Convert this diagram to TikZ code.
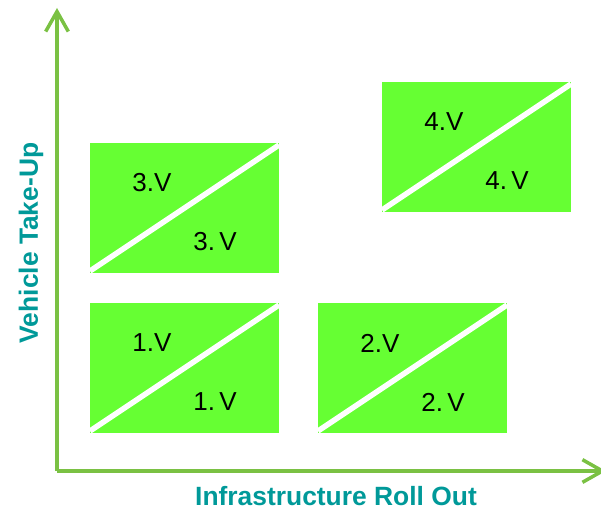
\documentclass[tikz,border=0pt]{standalone}
\usepackage{fontspec}
\setmainfont{Liberation Sans}
\usetikzlibrary{arrows.meta,calc}
\definecolor{boxgreen}{HTML}{66FF33}
\definecolor{axisgreen}{HTML}{7AC143}
\definecolor{tealtext}{HTML}{009999}
\tikzset{
  quad/.style={fill=boxgreen, draw=none, minimum width=189*0.75pt, minimum height=130*0.75pt, inner sep=0pt, outer sep=0pt, anchor=north west},
  axisline/.style={draw=axisgreen, line width=3.5*0.75pt, -{Straight Barb[length=15pt,width=17pt,line width=3.5*0.75pt]}},
  vlabel/.style={font=\fontsize{19.5pt}{24pt}\selectfont, text=black, inner sep=0pt},
  axislabel/.style={font=\fontsize{19.8pt}{24pt}\selectfont\bfseries, text=tealtext, inner sep=0pt},
  diag/.style={draw=white, line width=5.5*0.75pt}
}
\begin{document}
\begin{tikzpicture}[x=0.75pt,y=-0.75pt]
\useasboundingbox (0,0) rectangle (601,510);
% axes
\coordinate (origin) at (57,471);
\coordinate (ytip) at (57,8);
\coordinate (xtip) at (606,471);
\draw[axisline] (origin) -- (ytip);
\draw[axisline] (origin) -- (xtip);
% boxes
\node[quad] (b3) at (90,143) {};
\node[quad] (b4) at (382,82) {};
\node[quad] (b1) at (90,303) {};
\node[quad] (b2) at (318,303) {};
\foreach \b/\n in {b1/1,b2/2,b3/3,b4/4}{
  \begin{scope}
    \clip (\b.south west) rectangle (\b.north east);
    \draw[diag] ($(\b.south west)+(0,-2)$) -- ($(\b.north east)+(0,2)$);
  \end{scope}
  \node[vlabel] (\b u) at ($(\b.north west)+(62,40)$) {\n.V};
  \node[vlabel] (\b l) at ($(\b.north west)+(125,99)$) {\n.\hspace{0.16em}V};
}
% axis labels
\node[axislabel] (xlab) at (336,496) {Infrastructure Roll Out};
\node[axislabel, rotate=90] (ylab) at (31,243) {Vehicle Take-Up};
\end{tikzpicture}
\end{document}
